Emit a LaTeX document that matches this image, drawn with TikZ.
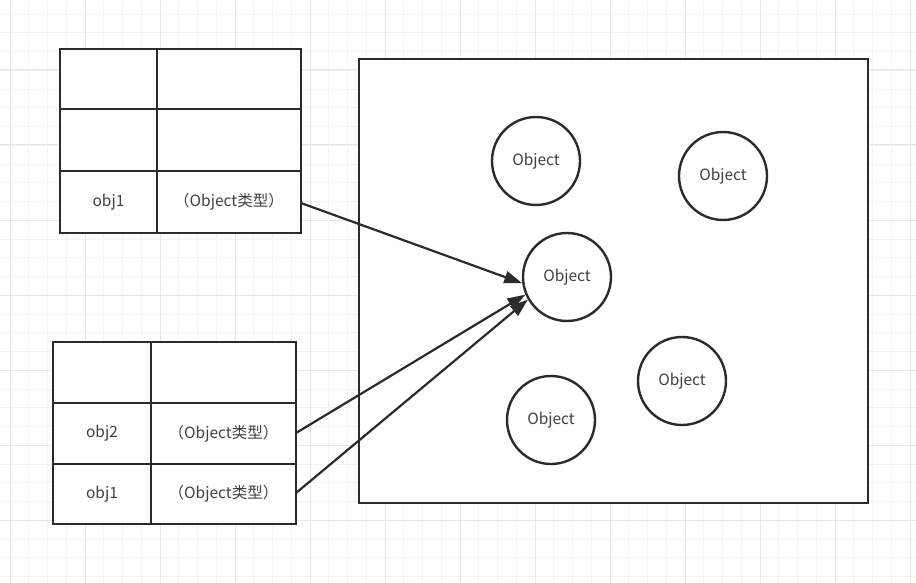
\documentclass[tikz,border=0pt]{standalone}
\usepackage{fontspec}
\setmainfont{Noto Sans CJK SC}
\usetikzlibrary{arrows.meta}
\definecolor{ink}{HTML}{2B2B2B}
\definecolor{gridminor}{HTML}{F2F2F2}
\definecolor{gridmajor}{HTML}{E6E6E6}
\begin{document}
\begin{tikzpicture}[x=1pt,y=-1pt,
  box/.style={draw=ink,line width=2.4pt},
  cell/.style={font=\fontsize{15.5}{18}\selectfont,text=ink!90},
  obj/.style={circle,draw=ink,line width=2.4pt,minimum size=88pt,inner sep=0pt,font=\fontsize{15.5}{18}\selectfont,text=ink!90,fill=white},
  link/.style={draw=ink,line width=2.2pt,-{Triangle[length=18pt,width=12pt]}}]
\useasboundingbox (0,0) rectangle (916,583);
\fill[white] (0,0) rectangle (916,583);
% grid
\foreach \i in {0,...,49} {
  \pgfmathsetmacro{\gx}{10+18.75*\i}
  \draw[gridminor,line width=0.8pt] (\gx,0) -- (\gx,583);
}
\foreach \i in {0,...,31} {
  \pgfmathsetmacro{\gy}{-4.75+18.75*\i}
  \draw[gridminor,line width=0.8pt] (0,\gy) -- (916,\gy);
}
\foreach \i in {0,...,12} {
  \pgfmathsetmacro{\gx}{10+75*\i}
  \draw[gridmajor,line width=1pt] (\gx,0) -- (\gx,583);
}
\foreach \i in {0,...,8} {
  \pgfmathsetmacro{\gy}{-5+75*\i}
  \draw[gridmajor,line width=1pt] (0,\gy) -- (916,\gy);
}
% table 1
\fill[white] (60,49) rectangle (301,233);
\draw[box] (60,49) rectangle (301,233);
\draw[box] (157,49) -- (157,233);
\draw[box] (60,109) -- (301,109);
\draw[box] (60,171) -- (301,171);
\node[cell] (t1a) at (108.5,202) {obj1};
\node[cell] (t1b) at (229,202) {（Object类型）};
\coordinate (t1e) at (301,203);
% table 2
\fill[white] (53,342) rectangle (296,524);
\draw[box] (53,342) rectangle (296,524);
\draw[box] (151,342) -- (151,524);
\draw[box] (53,403) -- (296,403);
\draw[box] (53,464) -- (296,464);
\node[cell] (t2a) at (102,433.5) {obj2};
\node[cell] (t2b) at (223.5,433.5) {（Object类型）};
\node[cell] (t2c) at (102,494) {obj1};
\node[cell] (t2d) at (223.5,494) {（Object类型）};
\coordinate (t2e) at (296,433);
\coordinate (t2f) at (296,493);
% heap
\fill[white] (359,59) rectangle (868,503);
\draw[box] (359,59) rectangle (868,503);
\node[obj] (o1) at (536,161) {Object};
\node[obj] (o2) at (723,176) {Object};
\node[obj] (o3) at (567,277) {Object};
\node[obj] (o4) at (682,381) {Object};
\node[obj] (o5) at (551,420) {Object};
% links
\draw[link] (t1e) -- (o3.188);
\draw[link] (t2e) -- (o3.203);
\draw[link] (t2f) -- (o3.210);
\end{tikzpicture}
\end{document}
